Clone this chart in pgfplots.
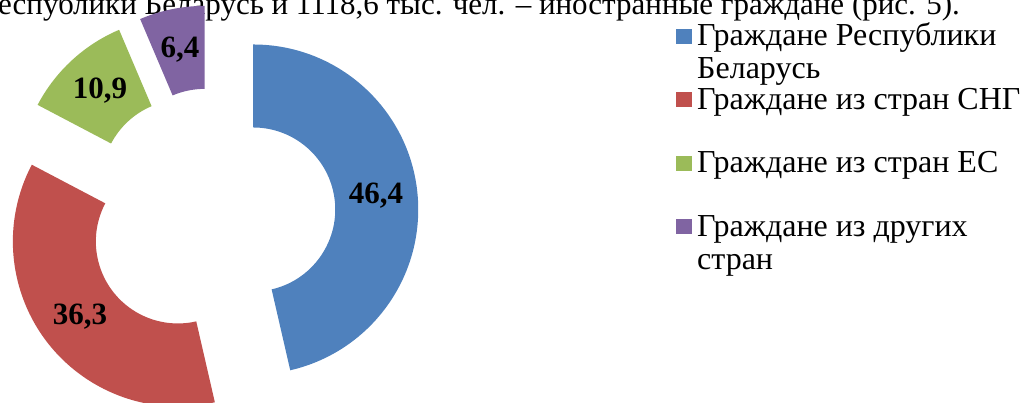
\documentclass[border=0pt]{standalone}
\usepackage{fontspec}
\setmainfont{Liberation Serif}
\usepackage{pgfplots}
\pgfplotsset{compat=1.18}
\usepackage{pgfplotstable}

\definecolor{sBlue}{HTML}{4F81BD}
\definecolor{sRed}{HTML}{C0504D}
\definecolor{sGreen}{HTML}{9BBB59}
\definecolor{sPurple}{HTML}{8064A2}

% share in per cent, explode = offset of the slice from the centre (px)
\pgfplotstableread[col sep=comma]{
share,explode
46.4,40
36.3,45
10.9,44
6.4,44
}\shares

\begin{document}
\begin{tikzpicture}
\useasboundingbox (0,0) rectangle (1022pt,403pt);
\clip (0,0) rectangle (1022pt,403pt);
\begin{axis}[
  at={(0,0)}, anchor=south west,
  scale only axis, width=1022pt, height=403pt,
  xmin=0, xmax=1022, ymin=0, ymax=403,
  hide axis, clip=false,
]
\pgfplotsextra{%
  % text line of the page, cut by the top edge
  \node[anchor=base east, font=\rmfamily\fontsize{31}{36}\selectfont, inner sep=0pt]
    at (axis cs:960,388) {граждане Республики Беларусь и 1118,6 тыс. чел. – иностранные граждане (рис. 5).};
  \xdef\acur{90}%
  \foreach \i/\col/\la/\lb in {0/sBlue/Граждане Республики/Беларусь,
                               1/sRed/Граждане из стран СНГ/,
                               2/sGreen/Граждане из стран ЕС/,
                               3/sPurple/Граждане из других/стран}{%
    \pgfplotstablegetelem{\i}{share}\of\shares
    \let\val\pgfplotsretval
    \pgfmathsetmacro\sweep{3.6*\val}%
    \pgfplotstablegetelem{\i}{explode}\of\shares
    \let\ex\pgfplotsretval
    \pgfmathsetmacro\aend{\acur-\sweep}%
    \pgfmathsetmacro\amid{\acur-\sweep/2}%
    \pgfmathsetmacro\cx{213.5+\ex*cos(\amid)}%
    \pgfmathsetmacro\cy{189+\ex*sin(\amid)}%
    \fill[\col] (axis cs:\cx,\cy) ++(\acur:165pt)
      arc[start angle=\acur, end angle=\aend, radius=165pt]
      -- ++(\aend:-83pt)
      arc[start angle=\aend, end angle=\acur, radius=82pt] -- cycle;
    \path (axis cs:\cx,\cy) ++(\amid:123.5pt)
      node[font=\rmfamily\bfseries\fontsize{31}{36}\selectfont, inner sep=0pt]
      {\pgfmathprintnumber[fixed, fixed zerofill, precision=1, use comma, assume math mode=true]{\val}};
    % legend
    \pgfmathsetmacro\yb{403-46-63.5*\i}%
    \fill[\col] (axis cs:676,\yb+2) rectangle (axis cs:692,\yb+17);
    \node[anchor=base west, font=\rmfamily\fontsize{32}{36}\selectfont, inner sep=0pt]
      at (axis cs:697,\yb) {\la};
    \node[anchor=base west, font=\rmfamily\fontsize{32}{36}\selectfont, inner sep=0pt]
      at (axis cs:697,\yb-33) {\lb};
    \xdef\acur{\aend}%
  }
}
\end{axis}
\end{tikzpicture}
\end{document}
